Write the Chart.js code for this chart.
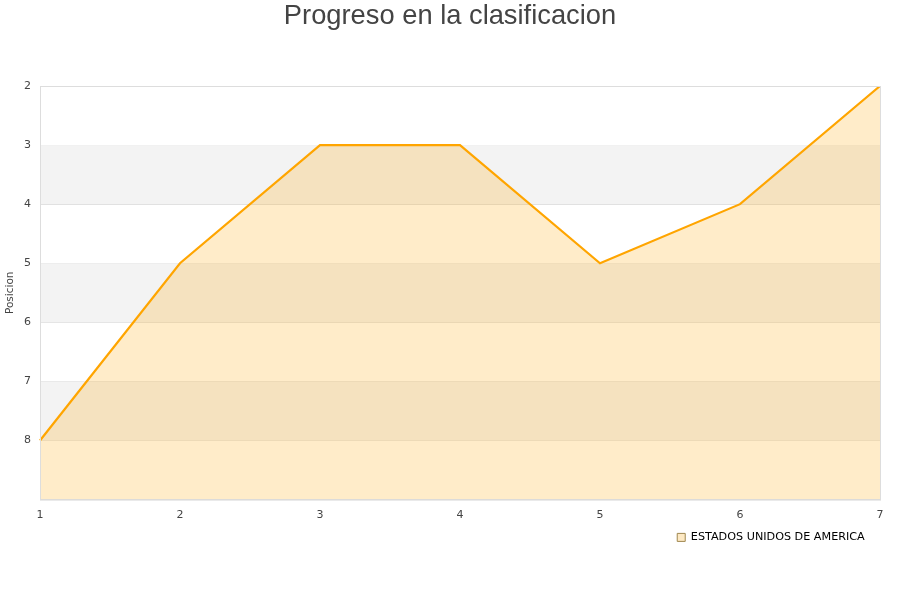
<!DOCTYPE html>
<html>
<head>
<meta charset="utf-8">
<script src="https://cdn.jsdelivr.net/npm/chart.js@4/dist/chart.umd.min.js"></script>
<style>
  html, body { margin: 0; padding: 0; background: #fff; }
  #wrap { width: 900px; height: 600px; }
</style>
</head>
<body>
<div id="wrap"><canvas id="c" width="900" height="600"></canvas></div>
<script>
// datos
const jornadas = ['1', '2', '3', '4', '5', '6', '7'];
const posiciones = [8, 5, 3, 3, 5, 4, 2];
const equipo = 'ESTADOS UNIDOS DE AMERICA';
const titulo = 'Progreso en la clasificacion';
const yTicks = [2, 3, 4, 5, 6, 7, 8, 9];
const bandStarts = [3, 5, 7];

const C = {
  text: '#444444',
  grid: '#dddddd',
  band: '#f3f3f3',
  line: '#ffa500',
  fill: 'rgba(255, 165, 0, 0.21)',
};

// franjas alternas, borde del area y titulo centrado en el lienzo
const bands = {
  id: 'bands',
  beforeDatasetsDraw(chart) {
    const { ctx, chartArea: a, scales: { y } } = chart;
    ctx.save();
    ctx.fillStyle = C.band;
    bandStarts.forEach(v => {
      const y0 = y.getPixelForValue(v), y1 = y.getPixelForValue(v + 1);
      ctx.fillRect(a.left, y0, a.right - a.left, y1 - y0);
    });
    ctx.restore();
  },
  afterDraw(chart) {
    const { ctx, chartArea: a } = chart;
    ctx.save();
    ctx.strokeStyle = C.grid;
    ctx.lineWidth = 1;
    ctx.strokeRect(a.left + 0.5, a.top + 0.5, a.right - a.left, a.bottom - a.top);
    ctx.fillStyle = C.text;
    ctx.font = "27.3px 'Liberation Sans', Arial, sans-serif";
    ctx.textAlign = 'center';
    ctx.textBaseline = 'middle';
    ctx.fillText(titulo, chart.width / 2, 16);
    ctx.restore();
  }
};

new Chart(document.getElementById('c'), {
  type: 'line',
  data: {
    labels: jornadas,
    datasets: [{
      label: equipo,
      data: posiciones,
      borderColor: C.line,
      backgroundColor: C.fill,
      borderWidth: 2.2,
      pointRadius: 0,
      tension: 0,
      fill: { value: 9 },
    }],
  },
  options: {
    responsive: false,
    animation: false,
    layout: { padding: { top: 86, left: 0, right: 20, bottom: 47 } },
    plugins: {
      title: { display: false },
      legend: {
        position: 'bottom',
        align: 'end',
        labels: {
          color: '#111',
          font: { family: "'DejaVu Sans', sans-serif", size: 11.2 },
          boxWidth: 8,
          boxHeight: 8,
          padding: 1,
          generateLabels: chart => [{
            text: equipo + '    ',
            fillStyle: '#fde9c4',
            strokeStyle: '#a08850',
            lineWidth: 1,
            datasetIndex: 0,
          }],
        },
      },
      tooltip: { enabled: false },
    },
    scales: {
      x: {
        type: 'category',
        offset: false,
        grid: { display: false, drawTicks: false },
        border: { display: false },
        ticks: { color: C.text, font: { family: "'DejaVu Sans', sans-serif", size: 11 }, padding: 9, maxRotation: 0 },
      },
      y: {
        reverse: true,
        min: 2,
        max: 9,
        afterBuildTicks: s => { s.ticks = yTicks.map(v => ({ value: v })); },
        afterFit: s => { s.width = 40; },
        grid: { color: C.grid, drawTicks: false },
        border: { display: false },
        ticks: {
          color: C.text,
          font: { family: "'DejaVu Sans', sans-serif", size: 11 },
          padding: 9,
          callback: v => (v === 9 ? '' : v),
        },
        title: {
          display: true,
          text: 'Posicion',
          color: C.text,
          font: { family: "'DejaVu Sans', sans-serif", size: 10.5 },
          padding: { top: 4, bottom: 0 },
        },
      },
    },
  },
  plugins: [bands],
});
</script>
</body>
</html>
